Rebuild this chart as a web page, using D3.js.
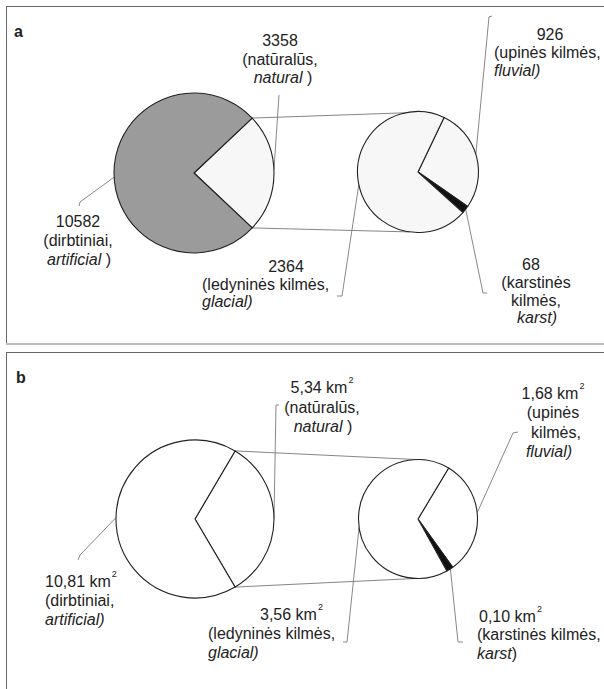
<!DOCTYPE html>
<html><head><meta charset="utf-8">
<script src="https://cdn.jsdelivr.net/npm/d3@7"></script>
<style>
html,body{margin:0;padding:0;background:#fff;}
svg{display:block;}
text{font-family:"Liberation Sans",Arial,sans-serif;fill:#222;}
</style></head>
<body>
<script>
// ---------- DATA ----------
const panelIds = ["a", "b"];
const mainCategories = ["natural", "artificial"];
const mainValuesA = [3358, 10582];
const mainValuesB = [5.34, 10.81];
const subCategories = ["fluvial", "karst", "glacial"];
const subValuesA = [926, 68, 2364];
const subValuesB = [1.68, 0.10, 3.56];
// label lines: segments [text, style]  (n = normal, i = italic, s = superscript)
const labelTextA = {
  natural:    [[["3358","n"]], [["(natūralūs,","n"]], [["natural","i"],[" )","n"]]],
  artificial: [[["10582","n"]], [["(dirbtiniai,","n"]], [["artificial","i"],[" )","n"]]],
  fluvial:    [[["926","n"]], [["(upinės kilmės,","n"]], [["fluvial)","i"]]],
  glacial:    [[["2364","n"]], [["(ledyninės kilmės,","n"]], [["glacial)","i"]]],
  karst:      [[["68","n"]], [["(karstinės","n"]], [["kilmės,","n"]], [["karst)","i"]]]
};
const labelTextB = {
  natural:    [[["5,34 km","n"],["2","s"]], [["(natūralūs,","n"]], [["natural","i"],[" )","n"]]],
  artificial: [[["10,81 km","n"],["2","s"]], [["(dirbtiniai,","n"]], [["artificial)","i"]]],
  fluvial:    [[["1,68 km","n"],["2","s"]], [["(upinės","n"]], [["kilmės,","n"]], [["fluvial)","i"]]],
  glacial:    [[["3,56 km","n"],["2","s"]], [["(ledyninės kilmės,","n"]], [["glacial)","i"]]],
  karst:      [[["0,10 km","n"],["2","s"]], [["(karstinės kilmės,","n"]], [["karst","i"],[")","n"]]]
};

// ---------- LAYOUT ----------
const W = 604, H = 689;
const deg = Math.PI / 180;
const layout = {
  a: {
    top: 6, bottom: 344,
    main: {cx: 194, cy: 173, r: 80, fills: {natural: "#f7f7f7", artificial: "#9b9b9b"}},
    sub:  {cx: 418, cy: 172, r: 60.5, start: 25.5, fills: {fluvial: "#f7f7f7", karst: "#111", glacial: "#f7f7f7"}},
    connectTop: 8, connectBottom: 188,
    labels: {
      natural:    {lines: [[280,"middle"],[280,"middle"],[283,"middle"]], y0: 46, lh: 18.5},
      artificial: {lines: [[78,"middle"],[78,"middle"],[79,"middle"]], y0: 227, lh: 19},
      fluvial:    {lines: [[550,"middle"],[494,"start"],[494,"start"]], y0: 39.5, lh: 18},
      glacial:    {lines: [[286,"middle"],[202,"start"],[202,"start"]], y0: 272, lh: 17.5},
      karst:      {lines: [[531,"middle"],[536,"middle"],[536,"middle"],[537,"middle"]], y0: 270, lh: 17.8}
    },
    leaders: [
      {pie: "main", angle: 88,  pts: [[279, 95]]},
      {pie: "main", angle: 267, pts: [[80, 202], [79, 206]]},
      {pie: "sub",  angle: 258, pts: [[342, 296], [337, 296]]},
      {pie: "sub",  angle: 128, pts: [[483, 293], [487, 293]]},
      {pie: "sub",  angle: 73,  pts: [[489, 17], [492, 16]]}
    ],
    tag: [14, 37]
  },
  b: {
    top: 352, bottom: null,
    main: {cx: 195, cy: 519, r: 79, fills: {natural: "#fff", artificial: "#fff"}},
    sub:  {cx: 418, cy: 519, r: 59.5, start: 31, fills: {fluvial: "#fff", karst: "#111", glacial: "#fff"}},
    connectTop: 7, connectBottom: 182,
    labels: {
      natural:    {lines: [[322,"middle"],[322,"middle"],[323,"middle"]], y0: 393, lh: 19.5},
      artificial: {lines: [[45,"start"],[45,"start"],[45,"start"]], y0: 587, lh: 19.2},
      fluvial:    {lines: [[553,"middle"],[553,"middle"],[556,"middle"],[549,"middle"]], y0: 399, lh: 19.3},
      glacial:    {lines: [[260,"start"],[208,"start"],[208,"start"]], y0: 620, lh: 19},
      karst:      {lines: [[479,"start"],[477,"start"],[477,"start"]], y0: 621.5, lh: 18.5}
    },
    leaders: [
      {pie: "main", angle: 90,  pts: [[276, 405], [279, 405]]},
      {pie: "main", angle: 271, pts: [[80, 555], [78, 560]]},
      {pie: "sub",  angle: 262, pts: [[347, 642], [343, 642]]},
      {pie: "sub",  angle: 147, pts: [[458, 642], [463, 642]]},
      {pie: "sub",  angle: 84,  pts: [[513, 433], [518, 432]]}
    ],
    tag: [16, 383]
  }
};

const svg = d3.select("body").append("svg").attr("width", W).attr("height", H);

function onCircle(p, a) {
  return [p.cx + p.r * Math.sin(a * deg), p.cy - p.r * Math.cos(a * deg)];
}

function drawPanel(id, mainVals, subVals, texts) {
  const L = layout[id];
  const g = svg.append("g");

  // frame
  g.append("line").attr("x1", 6).attr("x2", W).attr("y1", L.top + 0.5).attr("y2", L.top + 0.5)
    .attr("stroke", "#666").attr("stroke-width", 1);
  const leftBottom = L.bottom === null ? H : L.bottom;
  g.append("line").attr("x1", 6.5).attr("x2", 6.5).attr("y1", L.top).attr("y2", leftBottom)
    .attr("stroke", "#666").attr("stroke-width", 1);
  if (L.bottom !== null) {
    g.append("line").attr("x1", 6).attr("x2", W).attr("y1", L.bottom).attr("y2", L.bottom)
      .attr("stroke", "#bdbdbd").attr("stroke-width", 2);
  }

  // main pie: natural slice centred on 3 o'clock
  const mainTotal = d3.sum(mainVals);
  const natSpan = 2 * Math.PI * mainVals[0] / mainTotal;
  const mainPie = d3.pie().sort(null).value(d => d.v)
    .startAngle(Math.PI / 2 - natSpan / 2).endAngle(Math.PI / 2 - natSpan / 2 + 2 * Math.PI);
  const mainArcs = mainPie(mainCategories.map((c, i) => ({c, v: mainVals[i]})));
  const mainArc = d3.arc().innerRadius(0).outerRadius(L.main.r);

  const subPie = d3.pie().sort(null).value(d => d.v)
    .startAngle(L.sub.start * deg).endAngle(L.sub.start * deg + 2 * Math.PI);
  const subArcs = subPie(subCategories.map((c, i) => ({c, v: subVals[i]})));
  const subArc = d3.arc().innerRadius(0).outerRadius(L.sub.r);

  // connectors (natural slice -> sub pie)
  const nat = mainArcs[0];
  const pTop = onCircle(L.main, nat.startAngle / deg);
  const pBot = onCircle(L.main, nat.endAngle / deg);
  const sTop = onCircle(L.sub, L.connectTop);
  const sBot = onCircle(L.sub, L.connectBottom);
  g.append("line").attr("x1", pTop[0]).attr("y1", pTop[1]).attr("x2", sTop[0]).attr("y2", sTop[1])
    .attr("stroke", "#777").attr("stroke-width", 0.9);
  g.append("line").attr("x1", pBot[0]).attr("y1", pBot[1]).attr("x2", sBot[0]).attr("y2", sBot[1])
    .attr("stroke", "#777").attr("stroke-width", 0.9);

  // leader lines
  L.leaders.forEach(ld => {
    const p = ld.pie === "main" ? L.main : L.sub;
    const pts = [onCircle(p, ld.angle)].concat(ld.pts);
    g.append("path").attr("d", d3.line()(pts)).attr("fill", "none")
      .attr("stroke", "#7a7a7a").attr("stroke-width", 0.9);
  });

  // pies
  const gm = g.append("g").attr("transform", `translate(${L.main.cx},${L.main.cy})`);
  gm.selectAll("path").data(mainArcs).join("path")
    .attr("d", mainArc).attr("fill", d => L.main.fills[d.data.c])
    .attr("stroke", "#222").attr("stroke-width", 1.1).attr("stroke-linejoin", "round");
  const gs = g.append("g").attr("transform", `translate(${L.sub.cx},${L.sub.cy})`);
  gs.selectAll("path").data(subArcs).join("path")
    .attr("d", subArc).attr("fill", d => L.sub.fills[d.data.c])
    .attr("stroke", "#222").attr("stroke-width", 1.1).attr("stroke-linejoin", "round");

  // labels
  Object.keys(texts).forEach(k => {
    const spec = L.labels[k];
    texts[k].forEach((segs, i) => {
      const [x, anchor] = spec.lines[i];
      const t = g.append("text").attr("x", x).attr("y", spec.y0 + i * spec.lh)
        .attr("text-anchor", anchor).attr("font-size", 16);
      segs.forEach(([s, st]) => {
        const ts = t.append("tspan").text(s);
        if (st === "i") ts.attr("font-style", "italic");
        if (st === "s") ts.attr("font-size", 9).attr("dy", -10).attr("dx", 1);
      });
    });
  });

  // panel tag
  g.append("text").attr("x", L.tag[0]).attr("y", L.tag[1])
    .attr("font-size", 16).attr("font-weight", "bold").text(id);
}

drawPanel("a", mainValuesA, subValuesA, labelTextA);
drawPanel("b", mainValuesB, subValuesB, labelTextB);
</script>
</body></html>
